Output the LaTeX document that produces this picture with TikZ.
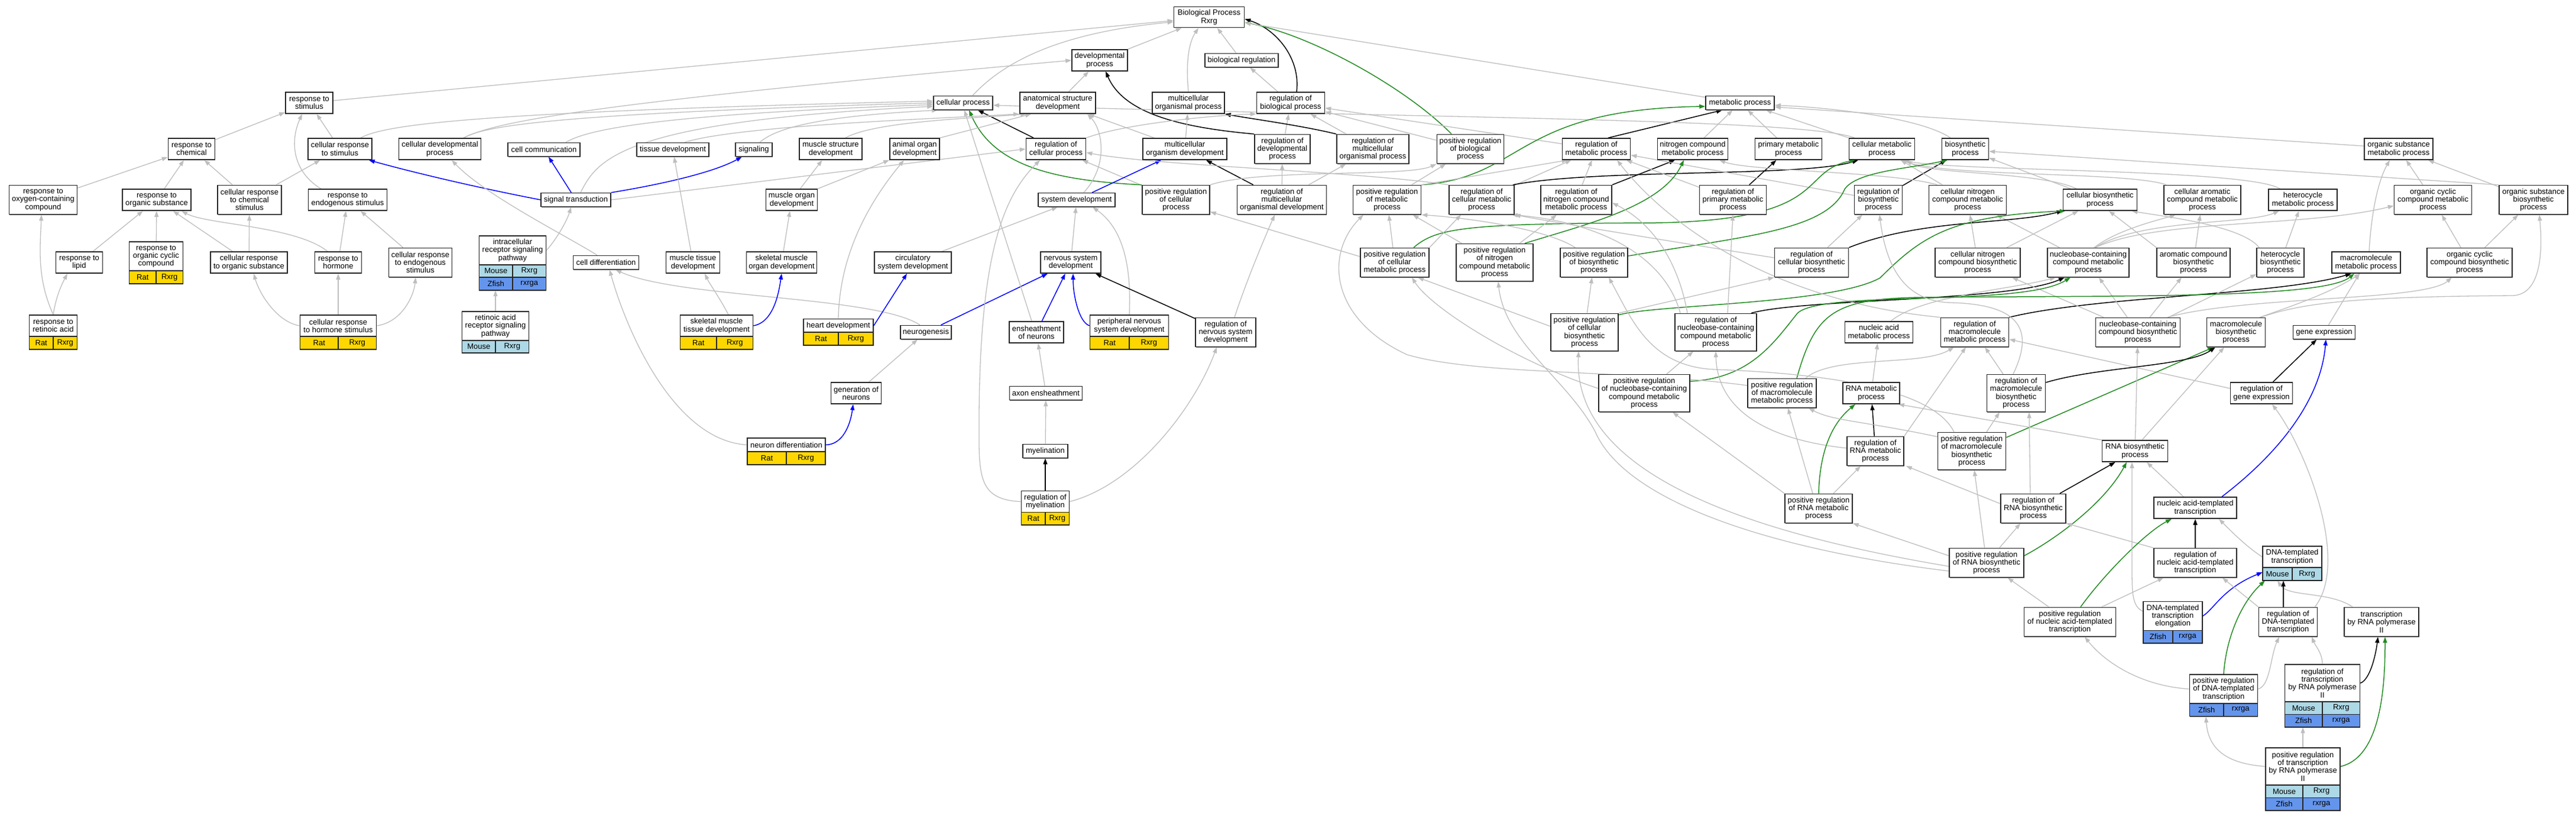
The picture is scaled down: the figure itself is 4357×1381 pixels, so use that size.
\documentclass[tikz,border=0pt]{standalone}
\usepackage{fontspec}
\setmainfont{Liberation Sans}
\usetikzlibrary{arrows.meta,shadows,backgrounds}
\definecolor{edgegray}{RGB}{190,190,190}
\definecolor{posgreen}{RGB}{34,139,34}
\definecolor{ratyel}{RGB}{255,215,0}
\definecolor{mouseblue}{RGB}{173,216,230}
\definecolor{fishblue}{RGB}{100,149,237}
\newcommand\gofont{\fontsize{13}{13.3}\selectfont}
\tikzset{
 gobox/.style={draw=black!85, fill=white, line width=1.6pt, inner sep=1pt, align=center, font=\gofont,
   general shadow={fill=black!60, shadow xshift=0.5pt, shadow yshift=-1pt}},
 generow/.style={draw=black!85, line width=1.6pt, inner sep=1pt, font=\gofont, minimum height=21.5pt,
   general shadow={fill=black!60, shadow xshift=0.5pt, shadow yshift=-1pt}},
 isa/.style={draw=edgegray, line width=1.3pt, -{Triangle[length=10pt,width=7pt]}},
 rega/.style={draw=black, line width=1.5pt, -{Triangle[length=10pt,width=7pt]}},
 parta/.style={draw=blue, line width=1.5pt, -{Triangle[length=10pt,width=7pt]}},
 posa/.style={draw=posgreen, line width=1.5pt, -{Triangle[length=10pt,width=7pt]}}
}
\newcommand\gob[6]{\node[gobox,minimum width=#4pt,minimum height=#5pt] (#1) at (#2,-#3) {#6};}
\newcommand\grow[7]{\node[generow,fill=#5,minimum width={#4*0.5pt}] (#1L) at ({#2-#4/4},-#3) {#6};
 \node[generow,fill=#5,minimum width={#4*0.5pt}] (#1R) at ({#2+#4/4},-#3) {#7};}
\newcommand\gall[5]{\node[inner sep=0pt,minimum width=#4pt,minimum height=#5pt] (#1All) at (#2,-#3) {};}
\begin{document}
\begin{tikzpicture}[x=1pt,y=1pt]
\useasboundingbox (0,0) rectangle (4357,-1381);
% ---------------- nodes
\gob{respStim}{523}{174}{80}{36}{response to\\stimulus}
\gob{respChem}{324}{252}{79}{36}{response to\\chemical}
\gob{cellRespStim}{575}{252}{108}{36}{cellular response\\to stimulus}
\gob{cellDevProc}{744}{252}{139}{36}{cellular developmental\\process}
\gob{cellComm}{920}{253}{122}{23}{cell communication}
\gob{tissueDev}{1138}{253}{122}{23}{tissue development}
\gob{respOxy}{73}{338}{115}{49}{response to\\oxygen-containing\\compound}
\gob{respOrgSub}{265}{338}{116}{36}{response to\\organic substance}
\gob{cellRespChem}{422}{338}{108}{49}{cellular response\\to chemical\\stimulus}
\gob{respEndo}{588}{338}{133}{36}{response to\\endogenous stimulus}
\gob{signalTrans}{974}{338}{118}{23}{signal transduction}
\gob{respLipid}{134}{444}{79}{36}{response to\\lipid}
\gob{respOrgCyc}{264}{433.5}{91}{49}{response to\\organic cyclic\\compound}
\grow{respOrgCycG}{264}{469}{91}{ratyel}{Rat}{Rxrg}
\gall{respOrgCyc}{264}{444.5}{91}{71}
\gob{cellRespOrg}{421}{444}{130}{36}{cellular response\\to organic substance}
\gob{respHormone}{572}{444}{79}{36}{response to\\hormone}
\gob{cellRespEndo}{711}{444}{107}{49}{cellular response\\to endogenous\\stimulus}
\gob{intracell}{867}{423.5}{113}{49}{intracellular\\receptor signaling\\pathway}
\grow{intracellA}{867}{458.5}{113}{mouseblue}{Mouse}{Rxrg}
\grow{intracellB}{867}{480}{113}{fishblue}{Zfish}{rxrga}
\gall{intracell}{867}{445}{113}{92}
\gob{cellDiff}{1025}{444}{111}{23}{cell differentiation}
\gob{respRA}{90}{551}{81}{36}{response to\\retinoic acid}
\grow{respRAG}{90}{580}{81}{ratyel}{Rat}{Rxrg}
\gall{respRA}{90}{562}{81}{58}
\gob{cellRespHormone}{572}{551}{129}{36}{cellular response\\to hormone stimulus}
\grow{cellRespHormoneG}{572}{580}{129}{ratyel}{Rat}{Rxrg}
\gall{cellRespHormone}{572}{562}{129}{58}
\gob{RAreceptor}{838}{551.5}{113}{49}{retinoic acid\\receptor signaling\\pathway}
\grow{RAreceptorG}{838}{586.5}{113}{mouseblue}{Mouse}{Rxrg}
\gall{RAreceptor}{838}{562}{113}{70}
\gob{BP}{2045}{29}{119}{35}{Biological Process\\Rxrg}
\gob{devProc}{1860}{102}{94}{36}{developmental\\process}
\gob{bioReg}{2100}{102}{124}{23}{biological regulation}
\gob{cellProc}{1629}{174}{100}{23}{cellular process}
\gob{anatStruct}{1789}{174}{128}{36}{anatomical structure\\development}
\gob{multiOrgProc}{2010}{174}{122}{36}{multicellular\\organismal process}
\gob{regBioProc}{2183}{174}{115}{36}{regulation of\\biological process}
\gob{signaling}{1275}{253}{62}{23}{signaling}
\gob{muscleStruct}{1405}{252}{106}{36}{muscle structure\\development}
\gob{animalOrgan}{1547}{252}{84}{36}{animal organ\\development}
\gob{regCellProc}{1786}{252}{101}{36}{regulation of\\cellular process}
\gob{multiOrgDev}{2004}{252}{142}{36}{multicellular\\organism development}
\gob{regDevProc}{2169}{252}{94}{49}{regulation of\\developmental\\process}
\gob{regMultiOrgProc}{2322}{252}{122}{49}{regulation of\\multicellular\\organismal process}
\gob{posRegBio}{2487}{252}{113}{49}{positive regulation\\of biological\\process}
\gob{muscleOrgan}{1339}{338}{87}{36}{muscle organ\\development}
\gob{sysDev}{1821}{338}{130}{23}{system development}
\gob{posRegCellProc}{1989}{338}{114}{49}{positive regulation\\of cellular\\process}
\gob{regMultiOrgDev}{2168}{338}{151}{49}{regulation of\\multicellular\\organismal development}
\gob{muscleTissue}{1172}{444}{91}{36}{muscle tissue\\development}
\gob{skelMuscleOrgan}{1322}{444}{119}{36}{skeletal muscle\\organ development}
\gob{circSys}{1544}{444}{130}{36}{circulatory\\system development}
\gob{nervSys}{1811}{444}{102}{36}{nervous system\\development}
\gob{regNervSys}{2073}{562}{102}{49}{regulation of\\nervous system\\development}
\gob{skelMuscleTissue}{1212}{551}{123}{36}{skeletal muscle\\tissue development}
\grow{skelMuscleTissueG}{1212}{580}{123}{ratyel}{Rat}{Rxrg}
\gall{skelMuscleTissue}{1212}{562}{123}{58}
\gob{heartDev}{1418}{551}{118}{23}{heart development}
\grow{heartDevG}{1418}{573}{118}{ratyel}{Rat}{Rxrg}
\gall{heartDev}{1418}{562}{118}{45}
\gob{neurogenesis}{1566}{562}{86}{23}{neurogenesis}
\gob{ensheath}{1753}{562}{92}{36}{ensheathment\\of neurons}
\gob{periph}{1910}{551}{133}{36}{peripheral nervous\\system development}
\grow{periphG}{1910}{580}{133}{ratyel}{Rat}{Rxrg}
\gall{periph}{1910}{562}{133}{58}
\gob{genNeurons}{1448}{665}{85}{36}{generation of\\neurons}
\gob{axonEnsh}{1769}{665}{123}{23}{axon ensheathment}
\gob{neuronDiff}{1330}{752.5}{132}{23}{neuron differentiation}
\grow{neuronDiffG}{1330}{775}{132}{ratyel}{Rat}{Rxrg}
\gall{neuronDiff}{1330}{763.5}{132}{45}
\gob{myelination}{1768}{763}{76}{23}{myelination}
\gob{regMyel}{1768}{848.5}{81}{36}{regulation of\\myelination}
\grow{regMyelG}{1768}{877.25}{81}{ratyel}{Rat}{Rxrg}
\gall{regMyel}{1768}{859.5}{81}{58}
\gob{metabProc}{2943}{174}{116}{23}{metabolic process}
\gob{regMetab}{2700}{252}{115}{36}{regulation of\\metabolic process}
\gob{nitroMetab}{2863}{252}{119}{36}{nitrogen compound\\metabolic process}
\gob{primaryMetab}{3025}{252}{113}{36}{primary metabolic\\process}
\gob{cellMetab}{3183}{252}{111}{36}{cellular metabolic\\process}
\gob{biosynth}{3324}{252}{79}{36}{biosynthetic\\process}
\gob{orgSubMetab}{4057}{252}{116}{36}{organic substance\\metabolic process}
\gob{posRegMetab}{2346}{338}{115}{49}{positive regulation\\of metabolic\\process}
\gob{regCellMetab}{2506}{338}{110}{49}{regulation of\\cellular metabolic\\process}
\gob{regNitro}{2666}{338}{120}{49}{regulation of\\nitrogen compound\\metabolic process}
\gob{regPrimary}{2931}{338}{113}{49}{regulation of\\primary metabolic\\process}
\gob{regBiosynth}{3177}{338}{81}{49}{regulation of\\biosynthetic\\process}
\gob{cellNitroMetab}{3328}{338}{131}{49}{cellular nitrogen\\compound metabolic\\process}
\gob{cellBiosynth}{3552}{338}{125}{36}{cellular biosynthetic\\process}
\gob{cellArom}{3725}{338}{130}{49}{cellular aromatic\\compound metabolic\\process}
\gob{heteroMetab}{3895}{338}{116}{36}{heterocycle\\metabolic process}
\gob{orgCycMetab}{4115}{338}{131}{49}{organic cyclic\\compound metabolic\\process}
\gob{orgSubBiosynth}{4285}{338}{116}{49}{organic substance\\biosynthetic\\process}
\gob{posRegCellMetab}{2359}{444}{116}{49}{positive regulation\\of cellular\\metabolic process}
\gob{posRegNitro}{2528}{444}{130}{63}{positive regulation\\of nitrogen\\compound metabolic\\process}
\gob{posRegBiosynth}{2696}{444}{114}{49}{positive regulation\\of biosynthetic\\process}
\gob{regCellBiosynth}{3064}{444}{125}{49}{regulation of\\cellular biosynthetic\\process}
\gob{cellNitroBiosynth}{3345}{444}{144}{49}{cellular nitrogen\\compound biosynthetic\\process}
\gob{nucMetab}{3532}{444}{138}{49}{nucleobase-containing\\compound metabolic\\process}
\gob{aromBiosynth}{3710}{444}{124}{49}{aromatic compound\\biosynthetic\\process}
\gob{heteroBiosynth}{3857}{444}{80}{49}{heterocycle\\biosynthetic\\process}
\gob{macroMetab}{4002}{444}{116}{36}{macromolecule\\metabolic process}
\gob{orgCycBiosynth}{4177}{444}{144}{49}{organic cyclic\\compound biosynthetic\\process}
\gob{posRegCellBiosynth}{2680}{562}{114}{63}{positive regulation\\of cellular\\biosynthetic\\process}
\gob{regNuc}{2902}{562}{138}{63}{regulation of\\nucleobase-containing\\compound metabolic\\process}
\gob{nucAcidMetab}{3178}{562}{115}{36}{nucleic acid\\metabolic process}
\gob{regMacroMetab}{3340}{562}{115}{49}{regulation of\\macromolecule\\metabolic process}
\gob{nucBiosynth}{3616}{562}{143}{49}{nucleobase-containing\\compound biosynthetic\\process}
\gob{macroBiosynth}{3782}{562}{99}{49}{macromolecule\\biosynthetic\\process}
\gob{geneExpr}{3931}{562}{105}{23}{gene expression}
\gob{posRegNuc}{2781}{665}{154}{63}{positive regulation\\of nucleobase-containing\\compound metabolic\\process}
\gob{posRegMacroMetab}{3014}{665}{116}{49}{positive regulation\\of macromolecule\\metabolic process}
\gob{RNAmetab}{3165}{665}{96}{36}{RNA metabolic\\process}
\gob{regMacroBiosynth}{3410}{665}{99}{63}{regulation of\\macromolecule\\biosynthetic\\process}
\gob{regGeneExpr}{3825}{665}{105}{36}{regulation of\\gene expression}
\gob{regRNAmetab}{3172}{763}{96}{49}{regulation of\\RNA metabolic\\process}
\gob{posRegRNAmetab}{3076}{860}{114}{49}{positive regulation\\of RNA metabolic\\process}
\gob{posRegMacroBiosynth}{3335}{763}{115}{63}{positive regulation\\of macromolecule\\biosynthetic\\process}
\gob{RNAbiosynth}{3611}{763}{111}{36}{RNA biosynthetic\\process}
\gob{regRNAbiosynth}{3439}{860}{110}{49}{regulation of\\RNA biosynthetic\\process}
\gob{nucTranscr}{3713}{859}{140}{36}{nucleic acid-templated\\transcription}
\gob{posRegRNAbiosynth}{3360}{952}{126}{49}{positive regulation\\of RNA biosynthetic\\process}
\gob{regNucTranscr}{3713}{952}{140}{49}{regulation of\\nucleic acid-templated\\transcription}
\gob{DNAtranscr}{3877}{942}{100}{36}{DNA-templated\\transcription}
\grow{DNAtranscrG}{3877}{971}{100}{mouseblue}{Mouse}{Rxrg}
\gall{DNAtranscr}{3877}{953}{100}{58}
\gob{posRegNucTranscr}{3501}{1052}{155}{49}{positive regulation\\of nucleic acid-templated\\transcription}
\gob{DNAelong}{3675}{1042}{100}{49}{DNA-templated\\transcription\\elongation}
\grow{DNAelongG}{3675}{1077.25}{100}{fishblue}{Zfish}{rxrga}
\gall{DNAelong}{3675}{1052.5}{100}{71}
\gob{regDNAtranscr}{3870}{1052}{99}{49}{regulation of\\DNA-templated\\transcription}
\gob{transcrPol}{4028}{1052}{126}{49}{transcription\\by RNA polymerase\\II}
\gob{posRegDNAtranscr}{3761}{1165.5}{115}{49}{positive regulation\\of DNA-templated\\transcription}
\grow{posRegDNAtranscrG}{3761}{1200.75}{115}{fishblue}{Zfish}{rxrga}
\gall{posRegDNAtranscr}{3761}{1176.5}{115}{71}
\gob{regTranscrPol}{3928}{1155.5}{127}{63}{regulation of\\transcription\\by RNA polymerase\\II}
\grow{regTranscrPolA}{3928}{1197.75}{127}{mouseblue}{Mouse}{Rxrg}
\grow{regTranscrPolB}{3928}{1219.25}{127}{fishblue}{Zfish}{rxrga}
\gall{regTranscrPol}{3928}{1177}{127}{106}
\gob{posRegTranscrPol}{3895}{1296.5}{126}{63}{positive regulation\\of transcription\\by RNA polymerase\\II}
\grow{posRegTranscrPolA}{3895}{1338.75}{126}{mouseblue}{Mouse}{Rxrg}
\grow{posRegTranscrPolB}{3895}{1360.25}{126}{fishblue}{Zfish}{rxrga}
\gall{posRegTranscrPol}{3895}{1318}{126}{106}
% ---------------- edges
\begin{pgfonlayer}{background}
\fill[white] (0,0) rectangle (4357,-1381);
% left part
\draw[isa] (respStim) -- (BP);
\draw[isa] (respChem) -- (respStim);
\draw[isa] (cellRespStim) -- (respStim);
\draw[isa] ([xshift=22pt]respEndo.north west) .. controls (495,-290) and (490,-240) .. ([xshift=-12pt]respStim.south);
\draw[isa] ([xshift=-20pt]cellRespStim.north east) .. controls (650,-212) and (780,-190) .. ([yshift=3pt]cellProc.west);
\draw[isa] ([xshift=-30pt]cellDevProc.north east) .. controls (820,-212) and (950,-192) .. (cellProc.west);
\draw[isa] ([xshift=-30pt]cellDevProc.north east) .. controls (840,-205) and (1000,-175) .. (devProc.west);
\draw[isa] ([xshift=-25pt]cellComm.north east) .. controls (990,-222) and (1080,-195) .. ([yshift=-3pt]cellProc.west);
\draw[isa] ([xshift=8pt]signalTrans.north) .. controls (1010,-270) and (1050,-205) .. ([yshift=-6pt]cellProc.west);
\draw[parta] (signalTrans.west) .. controls (810,-318) and (700,-292) .. ([xshift=-6pt]cellRespStim.south east);
\draw[parta] (signalTrans) -- (cellComm);
\draw[parta] (signalTrans.north east) .. controls (1130,-310) and (1210,-290) .. ([xshift=-20pt]signaling.south);
\draw[isa] (signalTrans.east) -- (regCellProc.west);
\draw[isa] (respOxy) -- (respChem);
\draw[isa] (respOrgSub) -- (respChem);
\draw[isa] (cellRespChem) -- (respChem);
\draw[isa] (cellRespChem) -- (cellRespStim);
\draw[isa] (respLipid) -- (respOrgSub);
\draw[isa] (respOrgCyc) -- (respOrgSub);
\draw[isa] (cellRespOrg) -- (respOrgSub);
\draw[isa] (cellRespOrg) -- (cellRespChem);
\draw[isa] ([xshift=-18pt]respHormone.north) .. controls (500,-382) and (350,-380) .. ([xshift=42pt]respOrgSub.south);
\draw[isa] (respHormone) -- (respEndo);
\draw[isa] (cellRespEndo) -- (respEndo);
\draw[isa] (respRA.north) .. controls (62,-470) and (68,-420) .. ([xshift=-3pt]respOxy.south);
\draw[isa] (respRA.north) .. controls (95,-500) and (105,-480) .. ([xshift=-20pt]respLipid.south);
\draw[isa] (cellRespHormone.west) .. controls (470,-545) and (440,-500) .. ([xshift=8pt]cellRespOrg.south);
\draw[isa] (cellRespHormone) -- (respHormone);
\draw[isa] (cellRespHormone.east) .. controls (680,-545) and (700,-500) .. ([xshift=-8pt]cellRespEndo.south);
\draw[isa] (RAreceptor.north) -- (RAreceptor.north |- intracellAll.south);
\draw[isa] (intracell.east) .. controls (945,-400) and (960,-370) .. ([xshift=-8pt]signalTrans.south);
\draw[isa] ([xshift=-15pt]cellDiff.north) .. controls (960,-400) and (820,-330) .. ([xshift=20pt]cellDevProc.south);
\draw[isa] (neuronDiff.west) .. controls (1140,-745) and (1060,-560) .. ([xshift=6pt]cellDiff.south);
\draw[isa] ([xshift=-10pt]neurogenesis.north) .. controls (1480,-500) and (1150,-505) .. ([xshift=16pt]cellDiff.south);
\draw[isa] (genNeurons) -- (neurogenesis);
\draw[parta] (neuronDiff.east) .. controls (1425,-752) and (1438,-720) .. ([xshift=-5pt]genNeurons.south);
% developmental part
\draw[isa] (devProc) -- (BP);
\draw[isa] ([xshift=16pt]cellProc.north) .. controls (1720,-80) and (1850,-50) .. ([yshift=-8pt]BP.west);
\draw[isa] (anatStruct) -- (devProc);
\draw[isa] (multiOrgProc.north) .. controls (2005,-100) and (2012,-70) .. ([xshift=-18pt]BP.south);
\draw[isa] (bioReg) -- (BP);
\draw[isa] (regBioProc) -- (bioReg);
\draw[rega] ([xshift=10pt]regBioProc.north) .. controls (2200,-100) and (2160,-50) .. ([yshift=-3pt]BP.east);
\draw[posa] ([xshift=-32pt]posRegBio.north) .. controls (2380,-150) and (2220,-60) .. ([yshift=-9pt]BP.east);
\draw[isa] (posRegBio) -- (regBioProc);
\draw[isa] (regMetab) -- (regBioProc);
\draw[isa] (regDevProc) -- (regBioProc);
\draw[rega] (regDevProc.north west) .. controls (1990,-215) and (1900,-190) .. ([xshift=10pt]devProc.south);
\draw[isa] (regMultiOrgProc) -- (regBioProc);
\draw[rega] (regMultiOrgProc.north west) .. controls (2200,-212) and (2110,-200) .. (multiOrgProc.south east);
\draw[rega] (regMultiOrgDev) -- (multiOrgDev);
\draw[isa] (regMultiOrgDev) -- (regDevProc);
\draw[isa] (regMultiOrgDev) -- (regMultiOrgProc);
\draw[isa] (posRegCellProc) -- (regCellProc);
\draw[posa] (posRegCellProc.north west) .. controls (1780,-305) and (1680,-280) .. ([xshift=10pt]cellProc.south);
\draw[isa] (posRegCellProc.north east) .. controls (2130,-285) and (2380,-300) .. (posRegBio.south west);
\draw[rega] (regCellProc) -- (cellProc);
\draw[isa] (regCellProc.north east) .. controls (1900,-210) and (2050,-195) .. (regBioProc.south west);
\draw[isa] (multiOrgDev) -- (anatStruct);
\draw[isa] (multiOrgDev) -- (multiOrgProc);
\draw[isa] ([xshift=20pt]tissueDev.north) .. controls (1250,-212) and (1600,-200) .. (anatStruct.south west);
\draw[isa] ([xshift=10pt]signaling.north) .. controls (1320,-210) and (1420,-195) .. ([xshift=8pt]cellProc.south west);
\draw[isa] ([xshift=25pt]muscleStruct.north) .. controls (1480,-205) and (1650,-200) .. ([xshift=12pt]anatStruct.south west);
\draw[isa] (animalOrgan.north east) -- ([xshift=20pt]anatStruct.south west);
\draw[isa] (muscleOrgan) -- (muscleStruct);
\draw[isa] (muscleOrgan.north east) -- (animalOrgan.south west);
\draw[isa] (skelMuscleOrgan) -- (muscleOrgan);
\draw[isa] (muscleTissue) -- (tissueDev);
\draw[isa] ([xshift=20pt]skelMuscleTissue.north) .. controls (1215,-500) and (1200,-480) .. ([xshift=20pt]muscleTissue.south);
\draw[parta] (skelMuscleTissue.east) .. controls (1310,-545) and (1318,-490) .. (skelMuscleOrgan.south);
\draw[isa] (heartDev.north) .. controls (1420,-420) and (1480,-330) .. ([xshift=-18pt]animalOrgan.south);
\draw[parta] (heartDev.east) -- ([xshift=-10pt]circSys.south);
\draw[isa] (circSys) -- (sysDev);
\draw[isa] ([xshift=12pt]sysDev.north) .. controls (1875,-280) and (1865,-220) .. ([xshift=50pt]anatStruct.south);
\draw[parta] (sysDev) -- (multiOrgDev);
\draw[isa] (nervSys) -- (sysDev);
\draw[parta] (neurogenesis) -- (nervSys);
\draw[parta] (ensheath) -- (nervSys);
\draw[parta] (periph.west) .. controls (1825,-545) and (1815,-500) .. ([xshift=4pt]nervSys.south);
\draw[isa] (periph.north) .. controls (1915,-430) and (1890,-380) .. ([xshift=27pt]sysDev.south);
\draw[rega] (regNervSys) -- (nervSys);
\draw[isa] ([xshift=15pt]regNervSys.north) .. controls (2110,-470) and (2140,-400) .. ([xshift=-12pt]regMultiOrgDev.south);
\draw[isa] ([xshift=-8pt]ensheath.north) -- ([xshift=2pt]cellProc.south);
\draw[isa] (axonEnsh) -- (ensheath);
\draw[isa] (myelination) -- (axonEnsh);
\draw[rega] (regMyel) -- (myelination);
\draw[isa] (regMyel.west) .. controls (1650,-845) and (1656,-800) .. (1656,-700) .. controls (1658,-420) and (1700,-330) .. ([xshift=-27pt]regCellProc.south);
\draw[isa] (regMyel.east) .. controls (1920,-820) and (2020,-690) .. ([xshift=-15pt]regNervSys.south);
% metabolic part
\draw[isa] (metabProc) -- (BP);
\draw[rega] ([xshift=20pt]regMetab.north) -- ([xshift=-30pt]metabProc.south);
\draw[isa] (nitroMetab) -- (metabProc);
\draw[isa] (primaryMetab) -- (metabProc);
\draw[isa] (cellMetab.north west) -- ([xshift=-15pt]metabProc.south east);
\draw[isa] ([xshift=10pt]cellMetab.north west) .. controls (3050,-200) and (2400,-200) .. ([yshift=-4pt]cellProc.east);
\draw[isa] ([xshift=-25pt]biosynth.north) .. controls (3250,-200) and (3100,-182) .. ([yshift=-4pt]metabProc.east);
\draw[isa] ([yshift=5pt]orgSubMetab.west) -- ([yshift=-7pt]metabProc.east);
\draw[posa] (posRegMetab.north east) .. controls (2580,-300) and (2560,-185) .. ([yshift=-6pt]metabProc.west);
\draw[isa] (posRegMetab) -- (posRegBio);
\draw[isa] (posRegMetab.north east) -- ([xshift=10pt]regMetab.south west);
\draw[isa] (regCellMetab) -- (regMetab);
\draw[isa] (regCellMetab.north west) .. controls (2300,-290) and (1950,-280) .. ([yshift=-6pt]regCellProc.east);
\draw[rega] ([xshift=-3pt]regCellMetab.north east) .. controls (2700,-285) and (3050,-300) .. ([xshift=-40pt]cellMetab.south);
\draw[isa] (regNitro) -- (regMetab);
\draw[rega] (regNitro.north east) -- ([xshift=-30pt]nitroMetab.south);
\draw[rega] (regPrimary) -- (primaryMetab);
\draw[isa] (regPrimary) -- (regMetab);
\draw[rega] (regBiosynth) -- (biosynth);
\draw[isa] (regBiosynth) -- (regMetab);
\draw[isa] (cellNitroMetab) -- (cellMetab);
\draw[isa] ([xshift=15pt]cellNitroMetab.north west) .. controls (3200,-290) and (2960,-290) .. ([xshift=45pt]nitroMetab.south);
\draw[isa] (cellBiosynth) -- (biosynth);
\draw[isa] ([xshift=-40pt]cellBiosynth.north) .. controls (3450,-290) and (3260,-295) .. ([xshift=-15pt]cellMetab.south east);
\draw[isa] ([xshift=5pt]cellArom.north west) .. controls (3600,-290) and (3300,-300) .. ([xshift=-25pt]cellMetab.south east);
\draw[isa] ([xshift=20pt]heteroMetab.north west) .. controls (3800,-285) and (3300,-290) .. ([xshift=-20pt]cellMetab.south east);
\draw[isa] (nucMetab) -- (cellNitroMetab);
\draw[isa] ([xshift=10pt]nucMetab.north) .. controls (3580,-390) and (3640,-375) .. ([xshift=-45pt]cellArom.south);
\draw[isa] ([xshift=12pt]nucMetab.north) .. controls (3620,-370) and (3800,-380) .. ([xshift=-40pt]heteroMetab.south);
\draw[isa] ([xshift=12pt]nucMetab.north) .. controls (3650,-370) and (3900,-385) .. ([yshift=-10pt]orgCycMetab.west);
\draw[isa] (orgCycMetab) -- (orgSubMetab);
\draw[isa] (orgSubBiosynth) -- (orgSubMetab);
\draw[isa] (orgSubBiosynth.north west) -- ([yshift=-4pt]biosynth.east);
\draw[isa] ([xshift=5pt]macroMetab.north) .. controls (4010,-370) and (4020,-310) .. ([xshift=-15pt]orgSubMetab.south);
\draw[isa] (posRegCellMetab) -- (posRegMetab);
\draw[isa] (posRegCellMetab.north east) -- ([xshift=-35pt]regCellMetab.south);
\draw[isa] ([yshift=10pt]posRegCellMetab.west) -- ([yshift=5pt]posRegCellProc.south east);
\draw[posa] ([xshift=32pt]posRegCellMetab.north) .. controls (2430,-385) and (2480,-378) .. (2800,-377) .. controls (3100,-372) and (3040,-290) .. ([xshift=-45pt]cellMetab.south);
\draw[isa] (posRegNitro) -- (posRegMetab);
\draw[isa] (posRegNitro) -- (regNitro);
\draw[posa] ([xshift=-15pt]posRegNitro.north east) .. controls (2680,-380) and (2810,-350) .. ([xshift=-15pt]nitroMetab.south);
\draw[isa] ([xshift=26pt]posRegBiosynth.north west) .. controls (2620,-390) and (2500,-370) .. (posRegMetab.south east);
\draw[posa] ([yshift=11pt]posRegBiosynth.east) .. controls (2950,-400) and (3090,-390) .. (3120,-320) .. controls (3140,-290) and (3230,-285) .. ([xshift=-30pt]biosynth.south);
\draw[isa] (regCellBiosynth) -- (regBiosynth);
\draw[rega] (regCellBiosynth.north east) .. controls (3250,-370) and (3400,-380) .. (cellBiosynth.south west);
\draw[isa] ([yshift=8pt]regCellBiosynth.west) .. controls (2900,-420) and (2650,-380) .. (regCellMetab.south east);
\draw[isa] ([yshift=10pt]posRegCellBiosynth.west) -- ([xshift=39pt]posRegCellMetab.south);
\draw[isa] (posRegCellBiosynth) -- (posRegBiosynth);
\draw[isa] (posRegCellBiosynth.north east) -- (regCellBiosynth.south west);
\draw[posa] ([yshift=-3pt]posRegCellBiosynth.north east) .. controls (2800,-515) and (3100,-515) .. (3180,-470) .. controls (3250,-400) and (3300,-365) .. ([xshift=5pt]cellBiosynth.south west);
\draw[isa] ([xshift=-48pt]regNuc.north) .. controls (2840,-450) and (2800,-380) .. ([yshift=-5pt]regNitro.east);
\draw[isa] ([xshift=20pt]regNuc.north) -- (regPrimary.south);
\draw[isa] ([xshift=-60pt]regNuc.north) .. controls (2815,-430) and (2700,-375) .. ([xshift=-5pt]regCellMetab.south east);
\draw[rega] ([xshift=-10pt]regNuc.north east) .. controls (3050,-505) and (3400,-510) .. ([xshift=-40pt]nucMetab.south);
\draw[isa] ([xshift=20pt]nucAcidMetab.north) .. controls (3250,-500) and (3400,-490) .. ([xshift=-55pt]nucMetab.south);
\draw[rega] (regMacroMetab.north east) .. controls (3550,-500) and (3850,-500) .. ([xshift=-25pt]macroMetab.south);
\draw[isa] (regMacroMetab.north west) .. controls (3000,-510) and (2820,-380) .. ([xshift=35pt]regMetab.south);
\draw[isa] (nucBiosynth) -- (nucMetab);
\draw[isa] (nucBiosynth) -- (aromBiosynth);
\draw[isa] (nucBiosynth) -- (heteroBiosynth);
\draw[isa] (nucBiosynth) -- (cellNitroBiosynth);
\draw[isa] ([xshift=50pt]nucBiosynth.north) .. controls (3800,-500) and (4100,-510) .. ([xshift=-30pt]orgCycBiosynth.south);
\draw[isa] ([xshift=40pt]macroBiosynth.north) .. controls (3900,-510) and (3950,-490) .. ([xshift=-10pt]macroMetab.south);
\draw[isa] ([xshift=42pt]macroBiosynth.north) .. controls (3900,-510) and (4000,-502) .. (4250,-500) .. controls (4300,-498) and (4300,-420) .. ([xshift=10pt]orgSubBiosynth.south);
\draw[isa] (cellNitroBiosynth) -- (cellNitroMetab);
\draw[isa] (cellNitroBiosynth) -- (cellBiosynth);
\draw[isa] (aromBiosynth) -- (cellArom);
\draw[isa] (aromBiosynth.north west) -- ([xshift=15pt]cellBiosynth.south);
\draw[isa] ([xshift=5pt]heteroBiosynth.north west) .. controls (3790,-380) and (3650,-365) .. ([xshift=-10pt]cellBiosynth.south east);
\draw[isa] (heteroBiosynth) -- (heteroMetab);
\draw[isa] (orgCycBiosynth) -- (orgCycMetab);
\draw[isa] (orgCycBiosynth) -- (orgSubBiosynth);
\draw[isa] (geneExpr) -- (macroMetab);
\draw[rega] (regGeneExpr) -- (geneExpr);
\draw[isa] ([yshift=8pt]regGeneExpr.west) -- ([yshift=-12pt]regMacroMetab.east);
\draw[isa] ([yshift=8pt]posRegNuc.west) .. controls (2560,-610) and (2420,-520) .. ([xshift=29pt]posRegCellMetab.south);
\draw[isa] (posRegNuc) -- (regNuc);
\draw[posa] ([yshift=20pt]posRegNuc.east) .. controls (2960,-640) and (3000,-580) .. (3040,-530) .. controls (3080,-490) and (3420,-520) .. ([xshift=-30pt]nucMetab.south);
\draw[isa] ([yshift=13pt]posRegMacroMetab.west) .. controls (2750,-625) and (2500,-635) .. (2380,-600) .. controls (2250,-540) and (2240,-430) .. ([xshift=-40pt]posRegMetab.south);
\draw[posa] ([xshift=25pt]posRegMacroMetab.north) .. controls (3070,-530) and (3100,-505) .. (3250,-503) .. controls (3600,-500) and (3930,-505) .. ([xshift=-20pt]macroMetab.south);
\draw[isa] ([xshift=40pt]posRegMacroMetab.north) .. controls (3100,-600) and (3250,-620) .. ([xshift=-35pt]regMacroMetab.south);
\draw[isa] ([xshift=-30pt]posRegMacroBiosynth.north) .. controls (3270,-660) and (3100,-632) .. (2900,-625) .. controls (2790,-620) and (2760,-540) .. ([xshift=25pt]posRegBiosynth.south);
\draw[isa] (RNAmetab) -- (nucAcidMetab);
\draw[rega] (regRNAmetab) -- (RNAmetab);
\draw[isa] ([yshift=5pt]regRNAmetab.west) .. controls (3000,-745) and (2905,-700) .. (regNuc.south);
\draw[isa] (regRNAmetab.north east) -- ([xshift=-15pt]regMacroMetab.south);
\draw[isa] (posRegRNAmetab) -- (regRNAmetab);
\draw[isa] (posRegRNAmetab.north west) -- ([xshift=48pt]posRegNuc.south);
\draw[isa] ([xshift=-10pt]posRegRNAmetab.north) -- ([xshift=10pt]posRegMacroMetab.south);
\draw[posa] (posRegRNAmetab.north) .. controls (3078,-760) and (3100,-715) .. ([xshift=-27pt]RNAmetab.south);
\draw[posa] ([yshift=23pt]posRegMacroBiosynth.east) -- ([xshift=-38pt]macroBiosynth.south);
\draw[isa] ([xshift=25pt]posRegMacroBiosynth.north) -- ([xshift=-28pt]regMacroBiosynth.south);
\draw[isa] ([yshift=-8pt]posRegMacroBiosynth.north west) .. controls (3150,-712) and (3100,-712) .. ([xshift=45pt]posRegMacroMetab.south);
\draw[isa] (RNAbiosynth) -- (nucBiosynth);
\draw[isa] (RNAbiosynth.north west) -- ([xshift=-3pt]RNAmetab.south east);
\draw[isa] ([xshift=12pt]RNAbiosynth.north) -- ([xshift=-20pt]macroBiosynth.south);
\draw[isa] (regMacroBiosynth) -- (regMacroMetab);
\draw[rega] ([yshift=18pt]regMacroBiosynth.east) .. controls (3550,-620) and (3700,-620) .. ([xshift=-35pt]macroBiosynth.south);
\draw[isa] ([xshift=-5pt]regMacroBiosynth.north) .. controls (3440,-560) and (3420,-515) .. (3300,-512) .. controls (3220,-510) and (3190,-450) .. ([xshift=2pt]regBiosynth.south);
\draw[rega] (regRNAbiosynth) -- (RNAbiosynth);
\draw[isa] ([yshift=8pt]regRNAbiosynth.west) -- ([xshift=3pt]regRNAmetab.south east);
\draw[isa] ([xshift=-5pt]regRNAbiosynth.north) -- ([xshift=22pt]regMacroBiosynth.south);
\draw[isa] (nucTranscr) -- (RNAbiosynth);
\draw[parta] ([xshift=45pt]nucTranscr.north) .. controls (3850,-770) and (3925,-680) .. ([xshift=3pt]geneExpr.south);
\draw[isa] (posRegRNAbiosynth) -- (regRNAbiosynth);
\draw[isa] (posRegRNAbiosynth) -- (posRegMacroBiosynth);
\draw[posa] ([yshift=12pt]posRegRNAbiosynth.east) .. controls (3480,-910) and (3560,-850) .. ([xshift=-14pt]RNAbiosynth.south);
\draw[isa] ([yshift=12pt]posRegRNAbiosynth.west) -- (posRegRNAmetab.south east);
\draw[isa] ([yshift=-6pt]posRegRNAbiosynth.west) .. controls (2950,-900) and (2660,-800) .. ([xshift=-10pt]posRegCellBiosynth.south);
\draw[isa] ([yshift=-14pt]posRegRNAbiosynth.west) .. controls (3000,-930) and (2750,-850) .. (2698,-730) .. controls (2650,-640) and (2545,-580) .. ([xshift=6pt]posRegNitro.south);
\draw[rega] (regNucTranscr) -- (nucTranscr);
\draw[isa] (regNucTranscr.north west) -- (regRNAbiosynth.south east);
\draw[isa] (DNAtranscr.west) .. controls (3800,-925) and (3775,-900) .. ([xshift=40pt]nucTranscr.south);
\draw[isa] (posRegNucTranscr) -- (posRegRNAbiosynth);
\draw[isa] (posRegNucTranscr) -- (regNucTranscr);
\draw[posa] ([xshift=18pt]posRegNucTranscr.north) .. controls (3560,-970) and (3630,-900) .. ([xshift=-40pt]nucTranscr.south);
\draw[isa] ([yshift=8pt]DNAelong.west) .. controls (3605,-1025) and (3606,-1000) .. (3606,-950) -- ([xshift=-5pt]RNAbiosynth.south);
\draw[parta] (DNAelong.east) .. controls (3745,-1030) and (3760,-995) .. ([yshift=-15pt]DNAtranscrAll.west);
\draw[isa] ([xshift=15pt]transcrPol.north west) .. controls (3940,-1000) and (3870,-1010) .. ([xshift=-25pt]DNAtranscrAll.south);
\draw[rega] ([xshift=-8pt]regDNAtranscr.north) -- ([xshift=-15pt]DNAtranscrAll.south);
\draw[isa] (regDNAtranscr.north west) -- ([xshift=-25pt]regNucTranscr.south east);
\draw[isa] ([xshift=-5pt]regDNAtranscr.north east) .. controls (3975,-950) and (3900,-760) .. ([xshift=18pt]regGeneExpr.south);
\draw[isa] (posRegDNAtranscr.west) .. controls (3620,-1160) and (3560,-1120) .. ([xshift=25pt]posRegNucTranscr.south);
\draw[isa] (posRegDNAtranscr.east) .. controls (3840,-1160) and (3840,-1110) .. ([xshift=-15pt]regDNAtranscr.south);
\draw[posa] (posRegDNAtranscr.north) .. controls (3765,-1080) and (3790,-1020) .. ([xshift=4pt]DNAtranscrAll.south west);
\draw[isa] (regTranscrPol.north) .. controls (3928,-1105) and (3915,-1090) .. ([xshift=40pt]regDNAtranscr.south);
\draw[rega] (regTranscrPol.east) .. controls (4008,-1150) and (4018,-1110) .. ([xshift=-6pt]transcrPol.south);
\draw[isa] (posRegTranscrPol.north) -- (posRegTranscrPol.north |- regTranscrPolAll.south);
\draw[isa] (posRegTranscrPol.west) .. controls (3770,-1292) and (3735,-1270) .. ([xshift=-30pt]posRegDNAtranscrAll.south);
\draw[posa] (posRegTranscrPol.east) .. controls (4030,-1280) and (4034,-1150) .. ([xshift=6pt]transcrPol.south);
\end{pgfonlayer}
\end{tikzpicture}
\end{document}
